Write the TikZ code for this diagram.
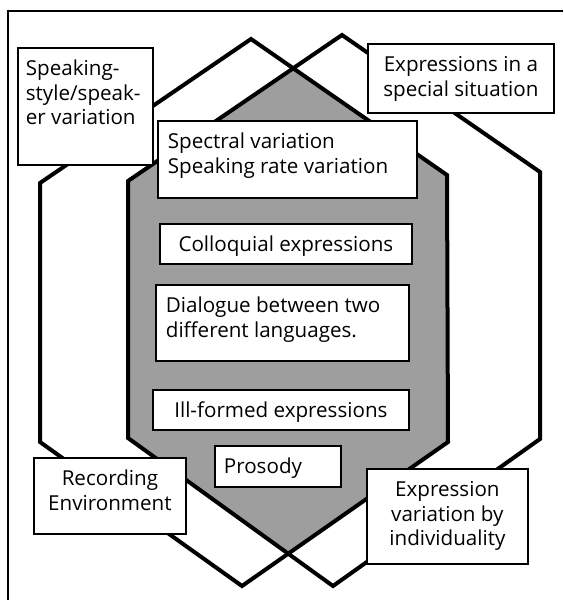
\documentclass[tikz,border=0pt]{standalone}
\usepackage{fontspec}
\setmainfont{Open Sans}
\newcommand\inbox[4]{\parbox[c][#1pt][t]{#2pt}{#3\rule{0pt}{28pt}#4}}
\tikzset{
  hex/.style={line width=4pt, line join=miter},
  frame/.style={line width=1.5pt},
  shade/.style={fill=black!38},
  lbl/.style={draw, line width=1.8pt, fill=white, inner sep=0pt, anchor=north west,
    font=\fontsize{20.6}{24.5}\selectfont},
}
\begin{document}
\begin{tikzpicture}[x=1pt, y=-1pt]
\useasboundingbox (0,0) rectangle (563,600);
\draw[frame] (8,600) -- (8,11) -- (563,11);
% left hexagon
\coordinate (L1) at (251,39);
\coordinate (L2) at (447,175);
\coordinate (L3) at (448,442);
\coordinate (L4) at (242,586);
\coordinate (L5) at (40,442);
\coordinate (L6) at (40,183);
% right hexagon
\coordinate (R1) at (342,35);
\coordinate (R2) at (540,172);
\coordinate (R3) at (540,439);
\coordinate (R4) at (333,586);
\coordinate (R5) at (128,438);
\coordinate (R6) at (128,181);
\begin{scope}
  \clip (L1) -- (L2) -- (L3) -- (L4) -- (L5) -- (L6) -- cycle;
  \fill[shade] (R1) -- (R2) -- (R3) -- (R4) -- (R5) -- (R6) -- cycle;
\end{scope}
\draw[hex] (L1) -- (L2) -- (L3) -- (L4) -- (L5) -- (L6) -- cycle;
\draw[hex] (R1) -- (R2) -- (R3) -- (R4) -- (R5) -- (R6) -- cycle;
% boxes
\node[lbl, minimum width=135, minimum height=117] (spk) at (17,47)
  {\inbox{117}{119}{\raggedright}{Speaking-\\style/speak-\\er variation}};
\node[lbl, minimum width=186, minimum height=69] (spc) at (367,43)
  {\inbox{69}{176}{\centering}{Expressions in a\\special situation}};
\node[lbl, minimum width=259, minimum height=77] (spe) at (157,120)
  {\inbox{77}{239}{\raggedright}{Spectral variation\\Speaking rate variation}};
\node[lbl, minimum width=252, minimum height=40] (col) at (159,223)
  {\inbox{40}{240}{\centering}{Colloquial expressions}};
\node[lbl, minimum width=253, minimum height=76] (dia) at (155,284)
  {\inbox{76}{233}{\raggedright}{Dialogue between two\\different languages.}};
\node[lbl, minimum width=256, minimum height=40] (ill) at (152,389)
  {\inbox{40}{244}{\centering}{Ill-formed expressions}};
\node[lbl, minimum width=126, minimum height=41] (pro) at (214,445)
  {\inbox{41}{108}{\raggedright}{Prosody}};
\node[lbl, minimum width=152, minimum height=76] (rec) at (33,457)
  {\inbox{76}{146}{\centering}{Recording\\Environment}};
\node[lbl, minimum width=161, minimum height=95] (ind) at (366,468)
  {\inbox{95}{155}{\centering}{Expression\\variation by\\individuality}};
\end{tikzpicture}
\end{document}
